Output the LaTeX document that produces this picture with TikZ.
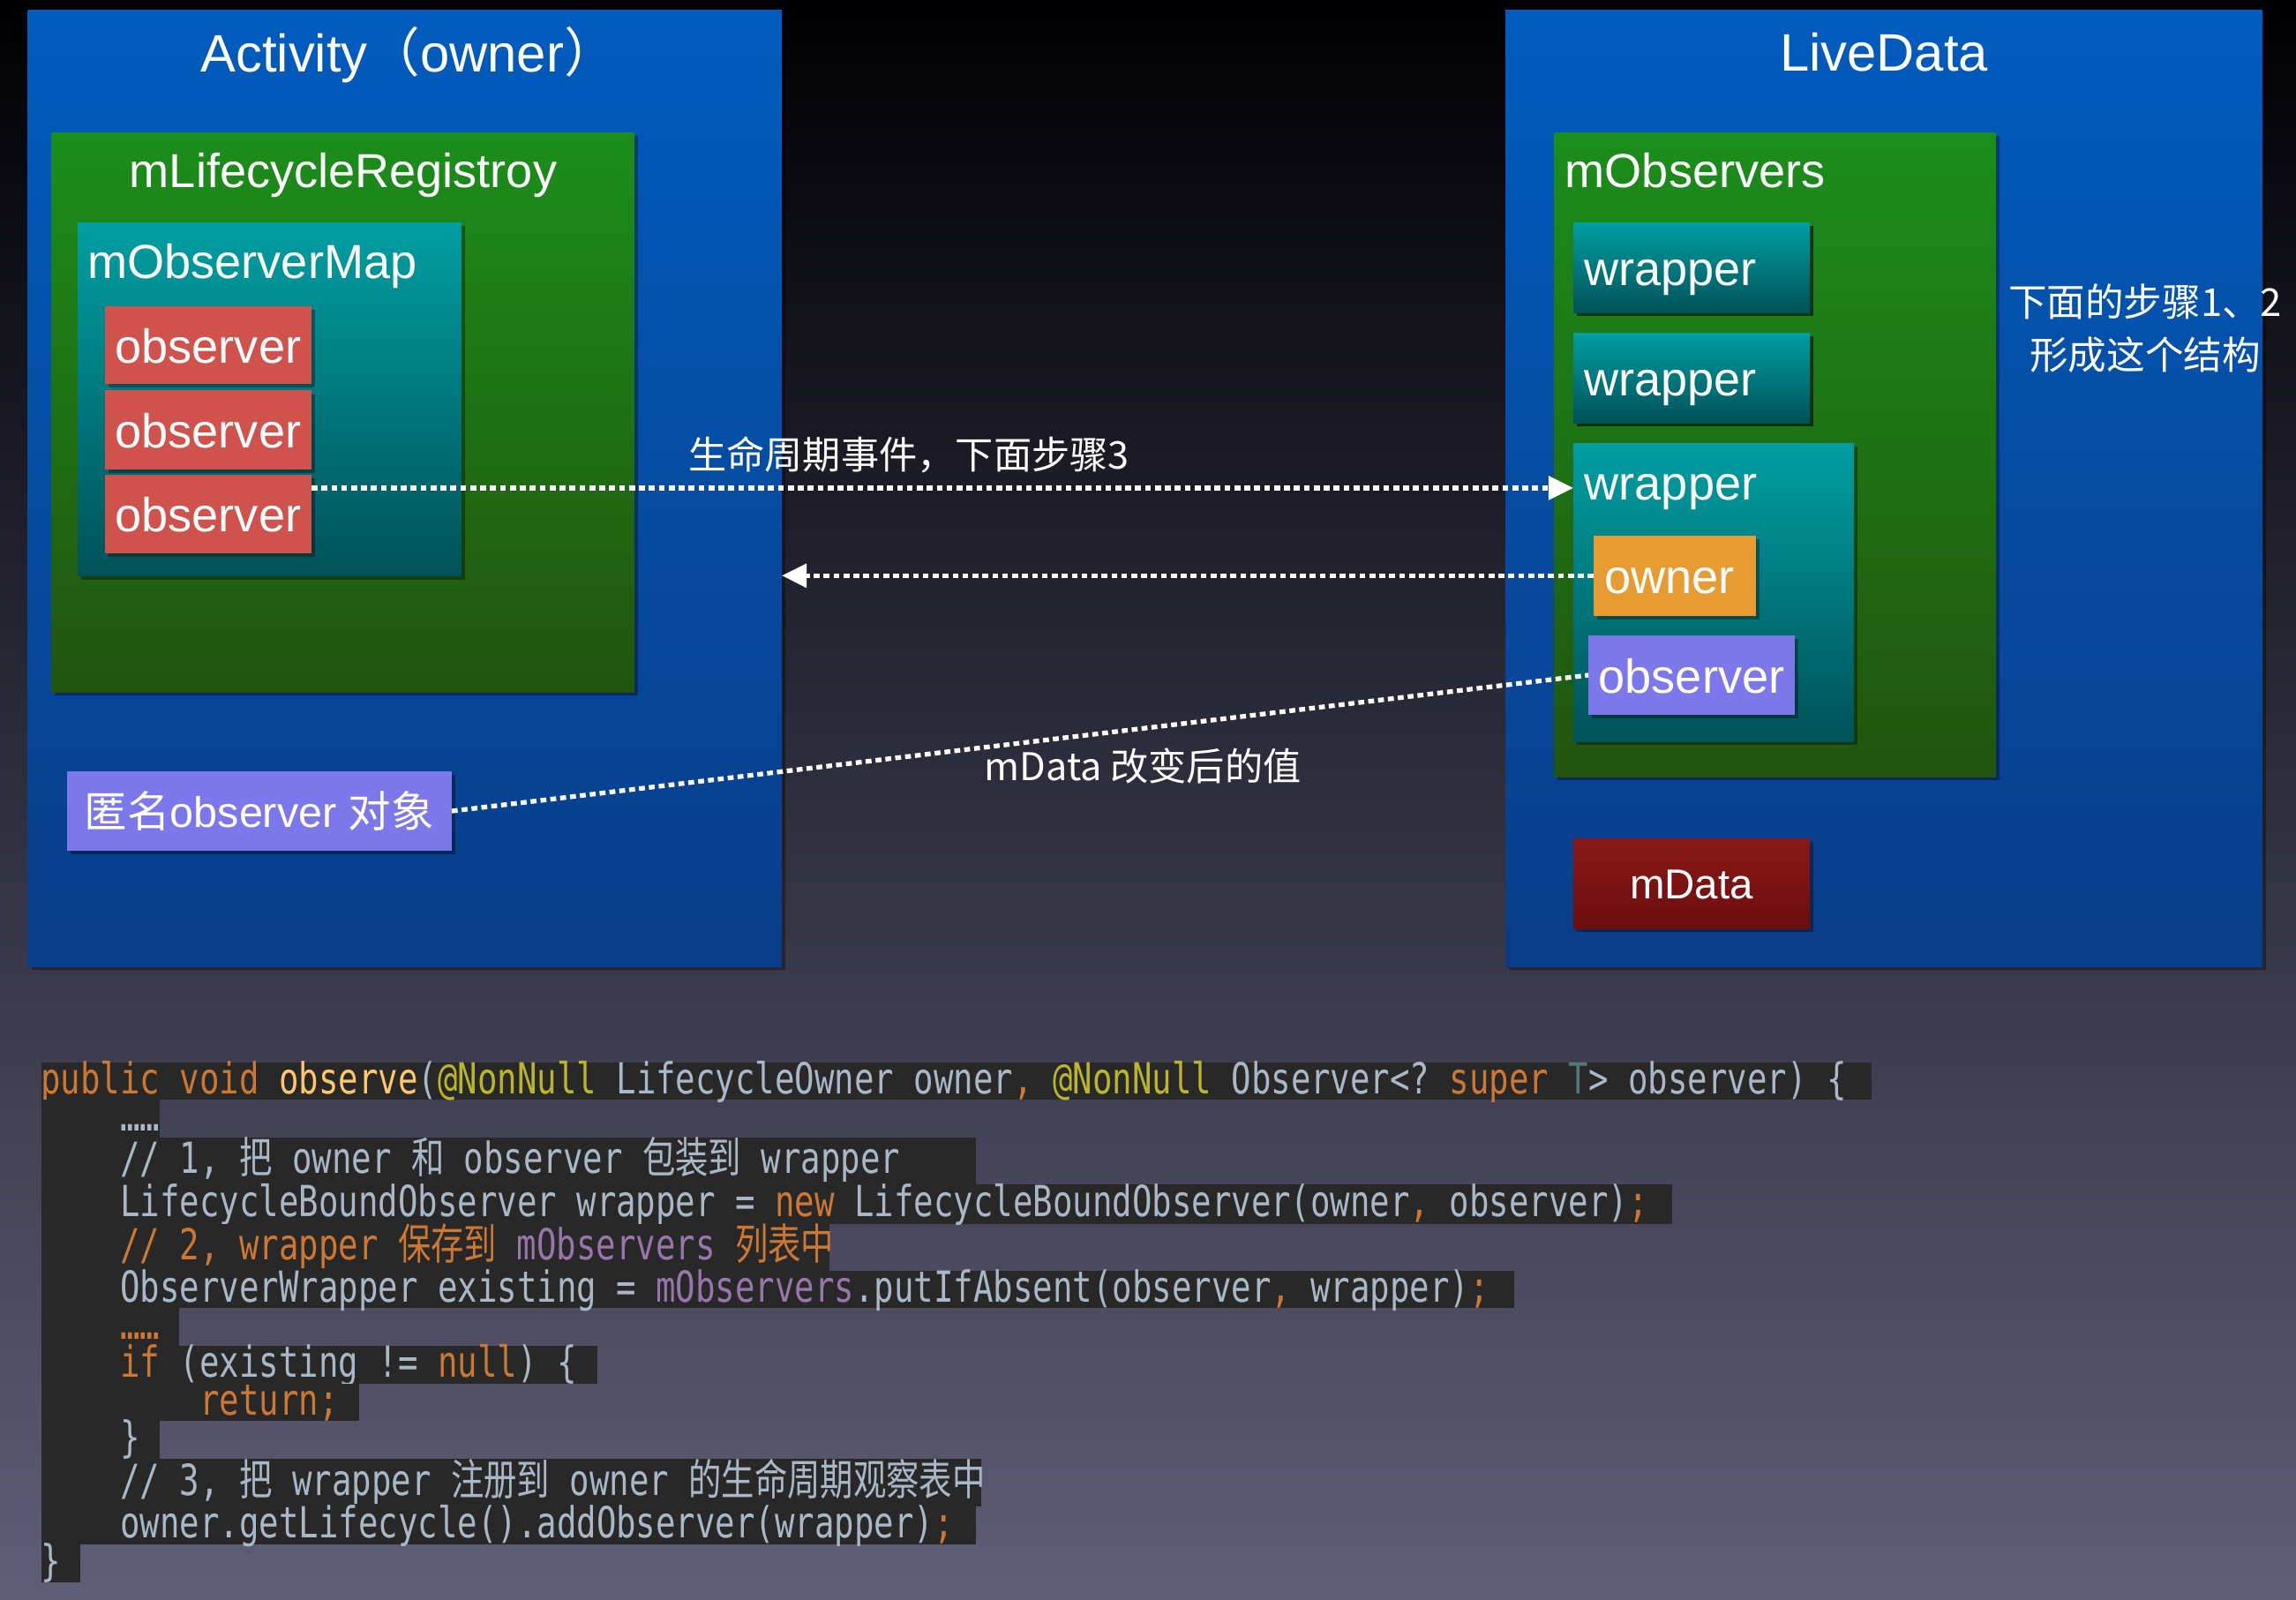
\documentclass[tikz,border=0pt]{standalone}
\usepackage{fontspec}
\setmainfont{Liberation Sans}
\newfontfamily\cjk{Noto Sans CJK SC}
\newfontfamily\codefont[FakeStretch=0.77]{DejaVu Sans Mono}
\newfontfamily\codecjkfont[FakeStretch=0.77]{Noto Sans CJK SC}
\usetikzlibrary{arrows.meta, positioning, shadows}

\definecolor{bgtop}{RGB}{0,0,4}
\definecolor{bgmid}{RGB}{14,14,30}
\definecolor{bgbot}{RGB}{95,93,120}
\definecolor{bluetop}{RGB}{0,92,190}
\definecolor{bluebot}{RGB}{10,60,135}
\definecolor{greentop}{RGB}{27,142,27}
\definecolor{greenbot}{RGB}{34,84,14}
\definecolor{tealtop}{RGB}{0,158,162}
\definecolor{tealbot}{RGB}{0,82,88}
\definecolor{obsred}{RGB}{207,82,76}
\definecolor{anonpurple}{RGB}{124,120,236}
\definecolor{ownerorange}{RGB}{230,156,50}
\definecolor{mdatatop}{RGB}{138,24,24}
\definecolor{mdatabot}{RGB}{108,14,14}
\definecolor{codebg}{RGB}{40,40,40}
\definecolor{codefg}{RGB}{169,183,198}
\definecolor{kwcol}{RGB}{204,120,50}
\definecolor{fncol}{RGB}{255,198,109}
\definecolor{ancol}{RGB}{187,181,41}
\definecolor{tpcol}{RGB}{80,120,116}
\definecolor{fdcol}{RGB}{152,118,170}

\newlength{\codecw}
\newcommand{\zh}[1]{{\codecjkfont #1}}
\newcommand{\codeind}{\hphantom{xxxx}}
\newcommand{\kwd}[1]{\textcolor{kwcol}{#1}}
% one code line: fixed-width spaces, no line break
\newcommand{\codetext}[1]{\settowidth{\codecw}{x}%
  \makebox[\linewidth][l]{\spaceskip=\codecw\xspaceskip=\codecw #1}}

\begin{document}
\begin{tikzpicture}[
    soft/.style={drop shadow={fill=black, opacity=0.35, shadow xshift=1.2pt, shadow yshift=-1.2pt}},
    panel/.style={anchor=north west, inner sep=0pt, outer sep=0pt, text=white},
    bigbox/.style={panel, top color=bluetop, bottom color=bluebot},
    greenbox/.style={panel, soft, top color=greentop, bottom color=greenbot},
    tealbox/.style={panel, soft, top color=tealtop, bottom color=tealbot},
    lbl/.style={text=white, inner sep=0pt, font=\fontsize{15.4pt}{18pt}\selectfont},
    item/.style={panel, soft, font=\fontsize{15.4pt}{18pt}\selectfont, text height=11.5pt, text depth=0pt},
    note/.style={text=white, inner sep=0pt, font=\cjk\fontsize{12.3pt}{17pt}\selectfont},
    flow/.style={draw=white, line width=1.5pt, dash pattern=on 1.9pt off 1.3pt},
    codeline/.style={anchor=north west, inner sep=0pt, outer sep=0pt, fill=codebg, text=codefg, align=left,
        font=\codefont\fontsize{13.8pt}{16pt}\selectfont, text height=8pt, text depth=0pt}
]
    \useasboundingbox (0,0) rectangle (26.02,-18.12);
    \shade[top color=bgtop, middle color=bgmid, bottom color=bgbot] (0,0) rectangle (26.02,-18.12);

    % Activity (owner)
    \node[bigbox, soft, minimum width=8.545cm, minimum height=10.834cm] (act) at (0.315,-0.116) {};
    \node[lbl, anchor=base west, font=\fontsize{17pt}{20pt}\selectfont] (actTitle) at (2.267,-0.81) {Activity{\cjk （}owner{\cjk ）}};
    \node[greenbox, minimum width=6.61cm, minimum height=6.34cm] (registry) at (0.58,-1.50) {};
    \node[lbl, anchor=base] (registryTitle) at (3.89,-2.12) {mLifecycleRegistroy};
    \node[tealbox, minimum width=4.346cm, minimum height=4.005cm] (map) at (0.878,-2.52) {};
    \node[lbl, anchor=base west] (mapTitle) at (0.987,-3.15) {mObserverMap};
    \node[item, fill=obsred, minimum width=2.342cm, minimum height=0.884cm] (obs1) at (1.188,-3.468) {observer};
    \node[item, fill=obsred, minimum width=2.342cm, minimum height=0.899cm] (obs2) at (1.188,-4.423) {observer};
    \node[item, fill=obsred, minimum width=2.342cm, minimum height=0.891cm] (obs3) at (1.188,-5.379) {observer};
    \node[item, fill=anonpurple, minimum width=4.362cm, minimum height=0.90cm,
        font=\fontsize{13.8pt}{16pt}\selectfont, text height=10.4pt] (anon) at (0.758,-8.74) {{\cjk 匿名}observer {\cjk 对象}};

    % LiveData
    \node[bigbox, soft, minimum width=8.58cm, minimum height=10.834cm] (live) at (17.06,-0.116) {};
    \node[lbl, anchor=base, font=\fontsize{17pt}{20pt}\selectfont] (liveTitle) at (21.35,-0.80) {LiveData};
    \node[greenbox, minimum width=5.01cm, minimum height=7.30cm] (observers) at (17.61,-1.50) {};
    \node[lbl, anchor=base west] (observersTitle) at (17.73,-2.12) {mObservers};
    \node[item, tealbox, minimum width=2.68cm, minimum height=1.02cm, inner xsep=0.12cm, text width=2.44cm, align=left] (wrap1) at (17.83,-2.52) {wrapper};
    \node[item, tealbox, minimum width=2.68cm, minimum height=1.02cm, inner xsep=0.12cm, text width=2.44cm, align=left] (wrap2) at (17.83,-3.77) {wrapper};
    \node[tealbox, minimum width=3.18cm, minimum height=3.38cm] (wrap3) at (17.83,-5.02) {};
    \node[lbl, anchor=base west] (wrap3Title) at (17.95,-5.66) {wrapper};
    \node[item, fill=ownerorange, minimum width=1.84cm, minimum height=0.915cm, inner xsep=0.12cm, text width=1.60cm, align=left] (owner) at (18.06,-6.065) {owner};
    \node[item, fill=anonpurple, minimum width=2.34cm, minimum height=0.90cm] (obsp) at (18.00,-7.20) {observer};
    \node[item, top color=mdatatop, bottom color=mdatabot, minimum width=2.68cm, minimum height=1.02cm,
        font=\fontsize{13.5pt}{16pt}\selectfont, text height=10.1pt] (mdata) at (17.83,-9.50) {mData};
    \node[note, align=center, font=\cjk\fontsize{12.4pt}{17pt}\selectfont] (stepNote) at (24.31,-3.72) {下面的步骤1、2\\形成这个结构};

    % connectors
    \draw[flow, -{Triangle[length=8pt, width=7.5pt]}] ([yshift=-0.15cm]obs3.north east) coordinate (evStart) -- (evStart -| wrap3.west);
    \node[note] (evLabel) at (10.30,-5.15) {生命周期事件，下面步骤3};
    \draw[flow, -{Triangle[length=8pt, width=7.5pt]}] (owner.west) -- (owner.west -| act.east);
    \draw[flow] (anon.east) -- (obsp.west);
    \node[note] (dataLabel) at (12.95,-8.68) {mData 改变后的值};

    % observe() source
    \node[codeline, text width=20.745cm, minimum height=0.42cm] (ln1) at (0.465,-12.04) {\codetext{\kwd{public void }\textcolor{fncol}{observe}(\textcolor{ancol}{@NonNull} LifecycleOwner owner\kwd{,} \textcolor{ancol}{@NonNull} Observer<? \kwd{super} \textcolor{tpcol}{T}> observer) \{}};
    \node[codeline, text width=1.345cm, minimum height=0.43cm] (ln2) at (ln1.south west) {\codetext{\codeind……}};
    \node[codeline, text width=10.595cm, minimum height=0.53cm] (ln3) at (ln2.south west) {\codetext{\codeind// 1, \zh{把} owner \zh{和} observer \zh{包装到} wrapper}};
    \node[codeline, text width=18.485cm, minimum height=0.45cm] (ln4) at (ln3.south west) {\codetext{\codeind LifecycleBoundObserver wrapper = \kwd{new} LifecycleBoundObserver(owner\kwd{,} observer)\kwd{;}}};
    \node[codeline, text width=8.935cm, minimum height=0.53cm] (ln5) at (ln4.south west) {\codetext{\codeind\kwd{// 2, wrapper \zh{保存到} \textcolor{fdcol}{mObservers} \zh{列表中}}}};
    \node[codeline, text width=16.695cm, minimum height=0.42cm] (ln6) at (ln5.south west) {\codetext{\codeind ObserverWrapper existing = \textcolor{fdcol}{mObservers}.putIfAbsent(observer\kwd{,} wrapper)\kwd{;}}};
    \node[codeline, text width=1.565cm, minimum height=0.43cm] (ln7) at (ln6.south west) {\codetext{\codeind\kwd{……}}};
    \node[codeline, text width=6.305cm, minimum height=0.43cm] (ln8) at (ln7.south west) {\codetext{\codeind\kwd{if} (existing != \kwd{null}) \{}};
    \node[codeline, text width=3.605cm, minimum height=0.42cm] (ln9) at (ln8.south west) {\codetext{\codeind\codeind\kwd{return;}}};
    \node[codeline, text width=1.345cm, minimum height=0.43cm] (ln10) at (ln9.south west) {\codetext{\codeind\}}};
    \node[codeline, text width=10.655cm, minimum height=0.54cm] (ln11) at (ln10.south west) {\codetext{\codeind// 3, \zh{把} wrapper \zh{注册到} owner \zh{的生命周期观察表中}}};
    \node[codeline, text width=10.595cm, minimum height=0.43cm] (ln12) at (ln11.south west) {\codetext{\codeind owner.getLifecycle().addObserver(wrapper)\kwd{;}}};
    \node[codeline, text width=0.445cm, minimum height=0.43cm] (ln13) at (ln12.south west) {\codetext{\}}};
\end{tikzpicture}
\end{document}
